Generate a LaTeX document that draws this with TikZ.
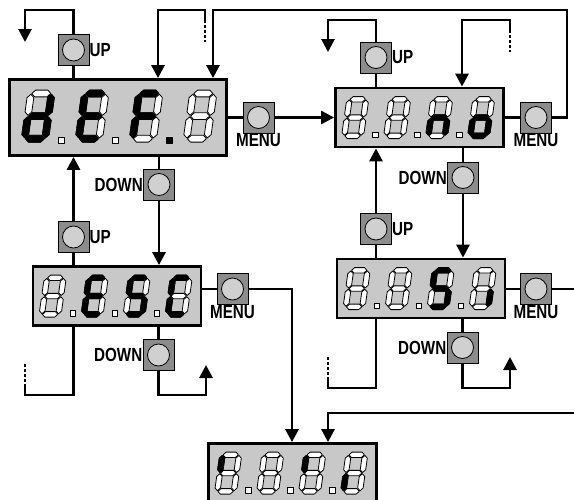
\documentclass[tikz,border=0pt]{standalone}
\usepackage{fontspec}
\usetikzlibrary{arrows.meta,calc}
\newfontfamily\keyfont[FakeStretch=0.8]{Liberation Sans}
\definecolor{panelgray}{RGB}{200,200,200}
\definecolor{keygray}{RGB}{140,140,140}
\definecolor{capgray}{RGB}{208,208,208}

% segments of one digit: 10.5 wide, 20 high, y going down
\def\segA{(1.6,1.3) -- (2.9,0) -- (7.6,0) -- (8.9,1.3) -- (7.6,2.6) -- (2.9,2.6) -- cycle}
\def\segG{(1.6,10) -- (2.9,8.7) -- (7.6,8.7) -- (8.9,10) -- (7.6,11.3) -- (2.9,11.3) -- cycle}
\def\segD{(1.6,18.7) -- (2.9,17.4) -- (7.6,17.4) -- (8.9,18.7) -- (7.6,20) -- (2.9,20) -- cycle}
\def\segF{(1.3,1.6) -- (2.6,2.9) -- (2.6,8.4) -- (1.3,9.7) -- (0,8.4) -- (0,2.9) -- cycle}
\def\segE{(1.3,10.3) -- (2.6,11.6) -- (2.6,17.1) -- (1.3,18.4) -- (0,17.1) -- (0,11.6) -- cycle}
\def\segB{(9.2,1.6) -- (10.5,2.9) -- (10.5,8.4) -- (9.2,9.7) -- (7.9,8.4) -- (7.9,2.9) -- cycle}
\def\segC{(9.2,10.3) -- (10.5,11.6) -- (10.5,17.1) -- (9.2,18.4) -- (7.9,17.1) -- (7.9,11.6) -- cycle}
\def\segX{}

\tikzset{
  segoff/.style={draw=black,fill=white,line width=0.8pt,line join=round},
  segon/.style={draw=black,fill=black,line width=0.8pt,line join=round},
  digit/.pic={
    \edef\litsegs{#1}
    \foreach \s in {A,B,C,D,E,F,G} {\path[segoff] \csname seg\s\endcsname;}
    \foreach \s in \litsegs {\path[segon] \csname seg\s\endcsname;}
  },
}

\begin{document}
\begin{tikzpicture}[x=1pt,y=-1pt,
  wire/.style={line width=2.8pt},
  arr/.style={-{Triangle[length=13pt,width=13pt]}},
  cut/.style={line width=2.8pt,dash pattern=on 3pt off 2pt},
  panel/.style={draw,line width=2.8pt,fill=panelgray,minimum width=168pt,minimum height=59pt,inner sep=0pt},
  big panel/.style={panel,minimum width=217pt,minimum height=76pt},
  big digit/.style={scale=2.6,xslant=0.14},
  small digit/.style={scale=2.1,xslant=0.14},
  keybox/.style={draw,line width=1pt,fill=keygray,minimum size=31pt,inner sep=0pt,label distance=3pt,
    path picture={\draw[line width=0.8pt,fill=capgray] (path picture bounding box.center) circle (11pt);}},
  keylabel/.style={font=\keyfont\bfseries\fontsize{19pt}{19pt}\selectfont,inner sep=0pt}]
  \path[use as bounding box,clip] (0,0) rectangle (574,499);

  \node[big panel] (dEF) at (118,117.5) {};
  \node[panel] (dNo) at (419.5,117.5) {};
  \node[panel] (dEsc) at (117,296) {};
  \node[panel] (dSi) at (421,288.5) {};
  \node[panel] (dEnd) at (292.5,473) {};

  \node[keybox,label={[keylabel]right:UP}] (upA) at (73.5,50) {};
  \node[keybox,label={[keylabel]below:MENU}] (menuA) at (258.5,117.5) {};
  \node[keybox,label={[keylabel]left:DOWN}] (downA) at (159,184.5) {};
  \node[keybox,label={[keylabel]right:UP}] (upC) at (73.5,237) {};
  \node[keybox,label={[keylabel]below:MENU}] (menuC) at (232.5,289) {};
  \node[keybox,label={[keylabel]left:DOWN}] (downC) at (158.5,355) {};
  \node[keybox,label={[keylabel]right:UP}] (upB) at (376,57.5) {};
  \node[keybox,label={[keylabel]below:MENU}] (menuB) at (536,117.5) {};
  \node[keybox,label={[keylabel]left:DOWN}] (downB) at (463,177.5) {};
  \node[keybox,label={[keylabel]right:UP}] (upD) at (376,229) {};
  \node[keybox,label={[keylabel]below:MENU}] (menuD) at (536,289) {};
  \node[keybox,label={[keylabel]left:DOWN}] (downD) at (462.5,347.5) {};

  \foreach \segs [count=\i from 0] in {{B,C,D,E,G},{A,D,E,F,G},{A,E,F,G},{X}}
    \pic[big digit] at ($(dEF.north west)+(20+54*\i,12)$) {digit=\segs};
  \foreach \i in {0,1}
    \draw[segoff] ($(dEF.north west)+(50+54*\i,59)$) rectangle ++(6,6);
  \draw[segon] ($(dEF.north west)+(158,59)$) rectangle ++(6,6);

  \foreach \segs [count=\i from 0] in {{X},{X},{C,E,G},{C,D,E,G}}
    \pic[small digit] at ($(dNo.north west)+(13+42*\i,10)$) {digit=\segs};
  \foreach \segs [count=\i from 0] in {{X},{A,D,E,F,G},{A,C,D,F,G},{A,D,E,F}}
    \pic[small digit] at ($(dEsc.north west)+(13+42*\i,10)$) {digit=\segs};
  \foreach \segs [count=\i from 0] in {{X},{X},{A,C,D,F,G},{C}}
    \pic[small digit] at ($(dSi.north west)+(13+42*\i,10)$) {digit=\segs};
  \foreach \segs [count=\i from 0] in {{F},{X},{F},{E}}
    \pic[small digit] at ($(dEnd.north west)+(13+42*\i,10)$) {digit=\segs};
  \foreach \d in {dNo,dEsc,dSi,dEnd}
    \foreach \i in {0,1,2}
      \draw[segoff] ($(\d.north west)+(38.5+42*\i,45.5)$) rectangle ++(5.5,5.5);

  \coordinate (upAtop) at (25,10);
  \coordinate (upAend) at (25,42);
  \coordinate (inA) at (158,10);
  \coordinate (inAend) at (205,20);
  \coordinate (inAdash) at (205,42);
  \coordinate (ringTop) at (567,10);
  \coordinate (ringIn) at (213,10);
  \coordinate (upBtop) at (328,20);
  \coordinate (upBend) at (328,52);
  \coordinate (inB) at (462,20);
  \coordinate (inBend) at (510,30);
  \coordinate (inBdash) at (510,52);
  \coordinate (backC) at (206,395);
  \coordinate (backCend) at (206,365);
  \coordinate (loopC) at (25,395);
  \coordinate (loopCdash) at (25,387);
  \coordinate (loopCend) at (25,364);
  \coordinate (backD) at (510,388);
  \coordinate (backDend) at (510,357);
  \coordinate (loopD) at (328,388);
  \coordinate (loopDdash) at (328,380);
  \coordinate (loopDend) at (328,357);
  \coordinate (outD) at (580,289);
  \coordinate (inE1) at (292,413);
  \coordinate (inE2) at (328,413);
  \coordinate (inE2start) at (580,413);

  \draw[wire] (dEF.north -| upA) -- (upA.south);
  \draw[wire,arr] (upA.north) |- (upAtop) -- (upAend);
  \draw[wire,arr] (inAend) |- (inA) -- (inA |- dEF.north);
  \draw[cut] (inAend) -- (inAdash);
  \draw[wire,arr] (menuB.east) -| (ringTop) -- (ringIn) -- (ringIn |- dEF.north);
  \draw[wire] (dEF.east) -- (menuA.west);
  \draw[wire,arr] (menuA.east) -- (menuA.east -| dNo.west);
  \draw[wire] (dEF.south -| downA) -- (downA.north);
  \draw[wire,arr] (downA.south) -- (downA |- dEsc.north);
  \draw[wire] (dEsc.north -| upC) -- (upC.south);
  \draw[wire,arr] (upC.north) -- (upC |- dEF.south);

  \draw[wire] (dEsc.east |- menuC) -- (menuC.west);
  \draw[wire,arr] (menuC.east) -| (inE1 |- dEnd.north);
  \draw[wire] (dEsc.south -| downC) -- (downC.north);
  \draw[wire,arr] (downC.south) |- (backC) -- (backCend);
  \draw[wire] (dEsc.south -| upC) |- (loopC) -- (loopCdash);
  \draw[cut] (loopCdash) -- (loopCend);

  \draw[wire] (dNo.north -| upB) -- (upB.south);
  \draw[wire,arr] (upB.north) |- (upBtop) -- (upBend);
  \draw[wire,arr] (inBend) |- (inB) -- (inB |- dNo.north);
  \draw[cut] (inBend) -- (inBdash);
  \draw[wire] (dNo.east) -- (menuB.west);
  \draw[wire] (dNo.south -| downB) -- (downB.north);
  \draw[wire,arr] (downB.south) -- (downB |- dSi.north);
  \draw[wire] (dSi.north -| upD) -- (upD.south);
  \draw[wire,arr] (upD.north) -- (upD |- dNo.south);

  \draw[wire] (dSi.east |- menuD) -- (menuD.west);
  \draw[wire] (menuD.east) -- (outD);
  \draw[wire] (dSi.south -| downD) -- (downD.north);
  \draw[wire,arr] (downD.south) |- (backD) -- (backDend);
  \draw[wire] (dSi.south -| upD) |- (loopD) -- (loopDdash);
  \draw[cut] (loopDdash) -- (loopDend);
  \draw[wire,arr] (inE2start) -- (inE2) -- (inE2 |- dEnd.north);
\end{tikzpicture}
\end{document}
